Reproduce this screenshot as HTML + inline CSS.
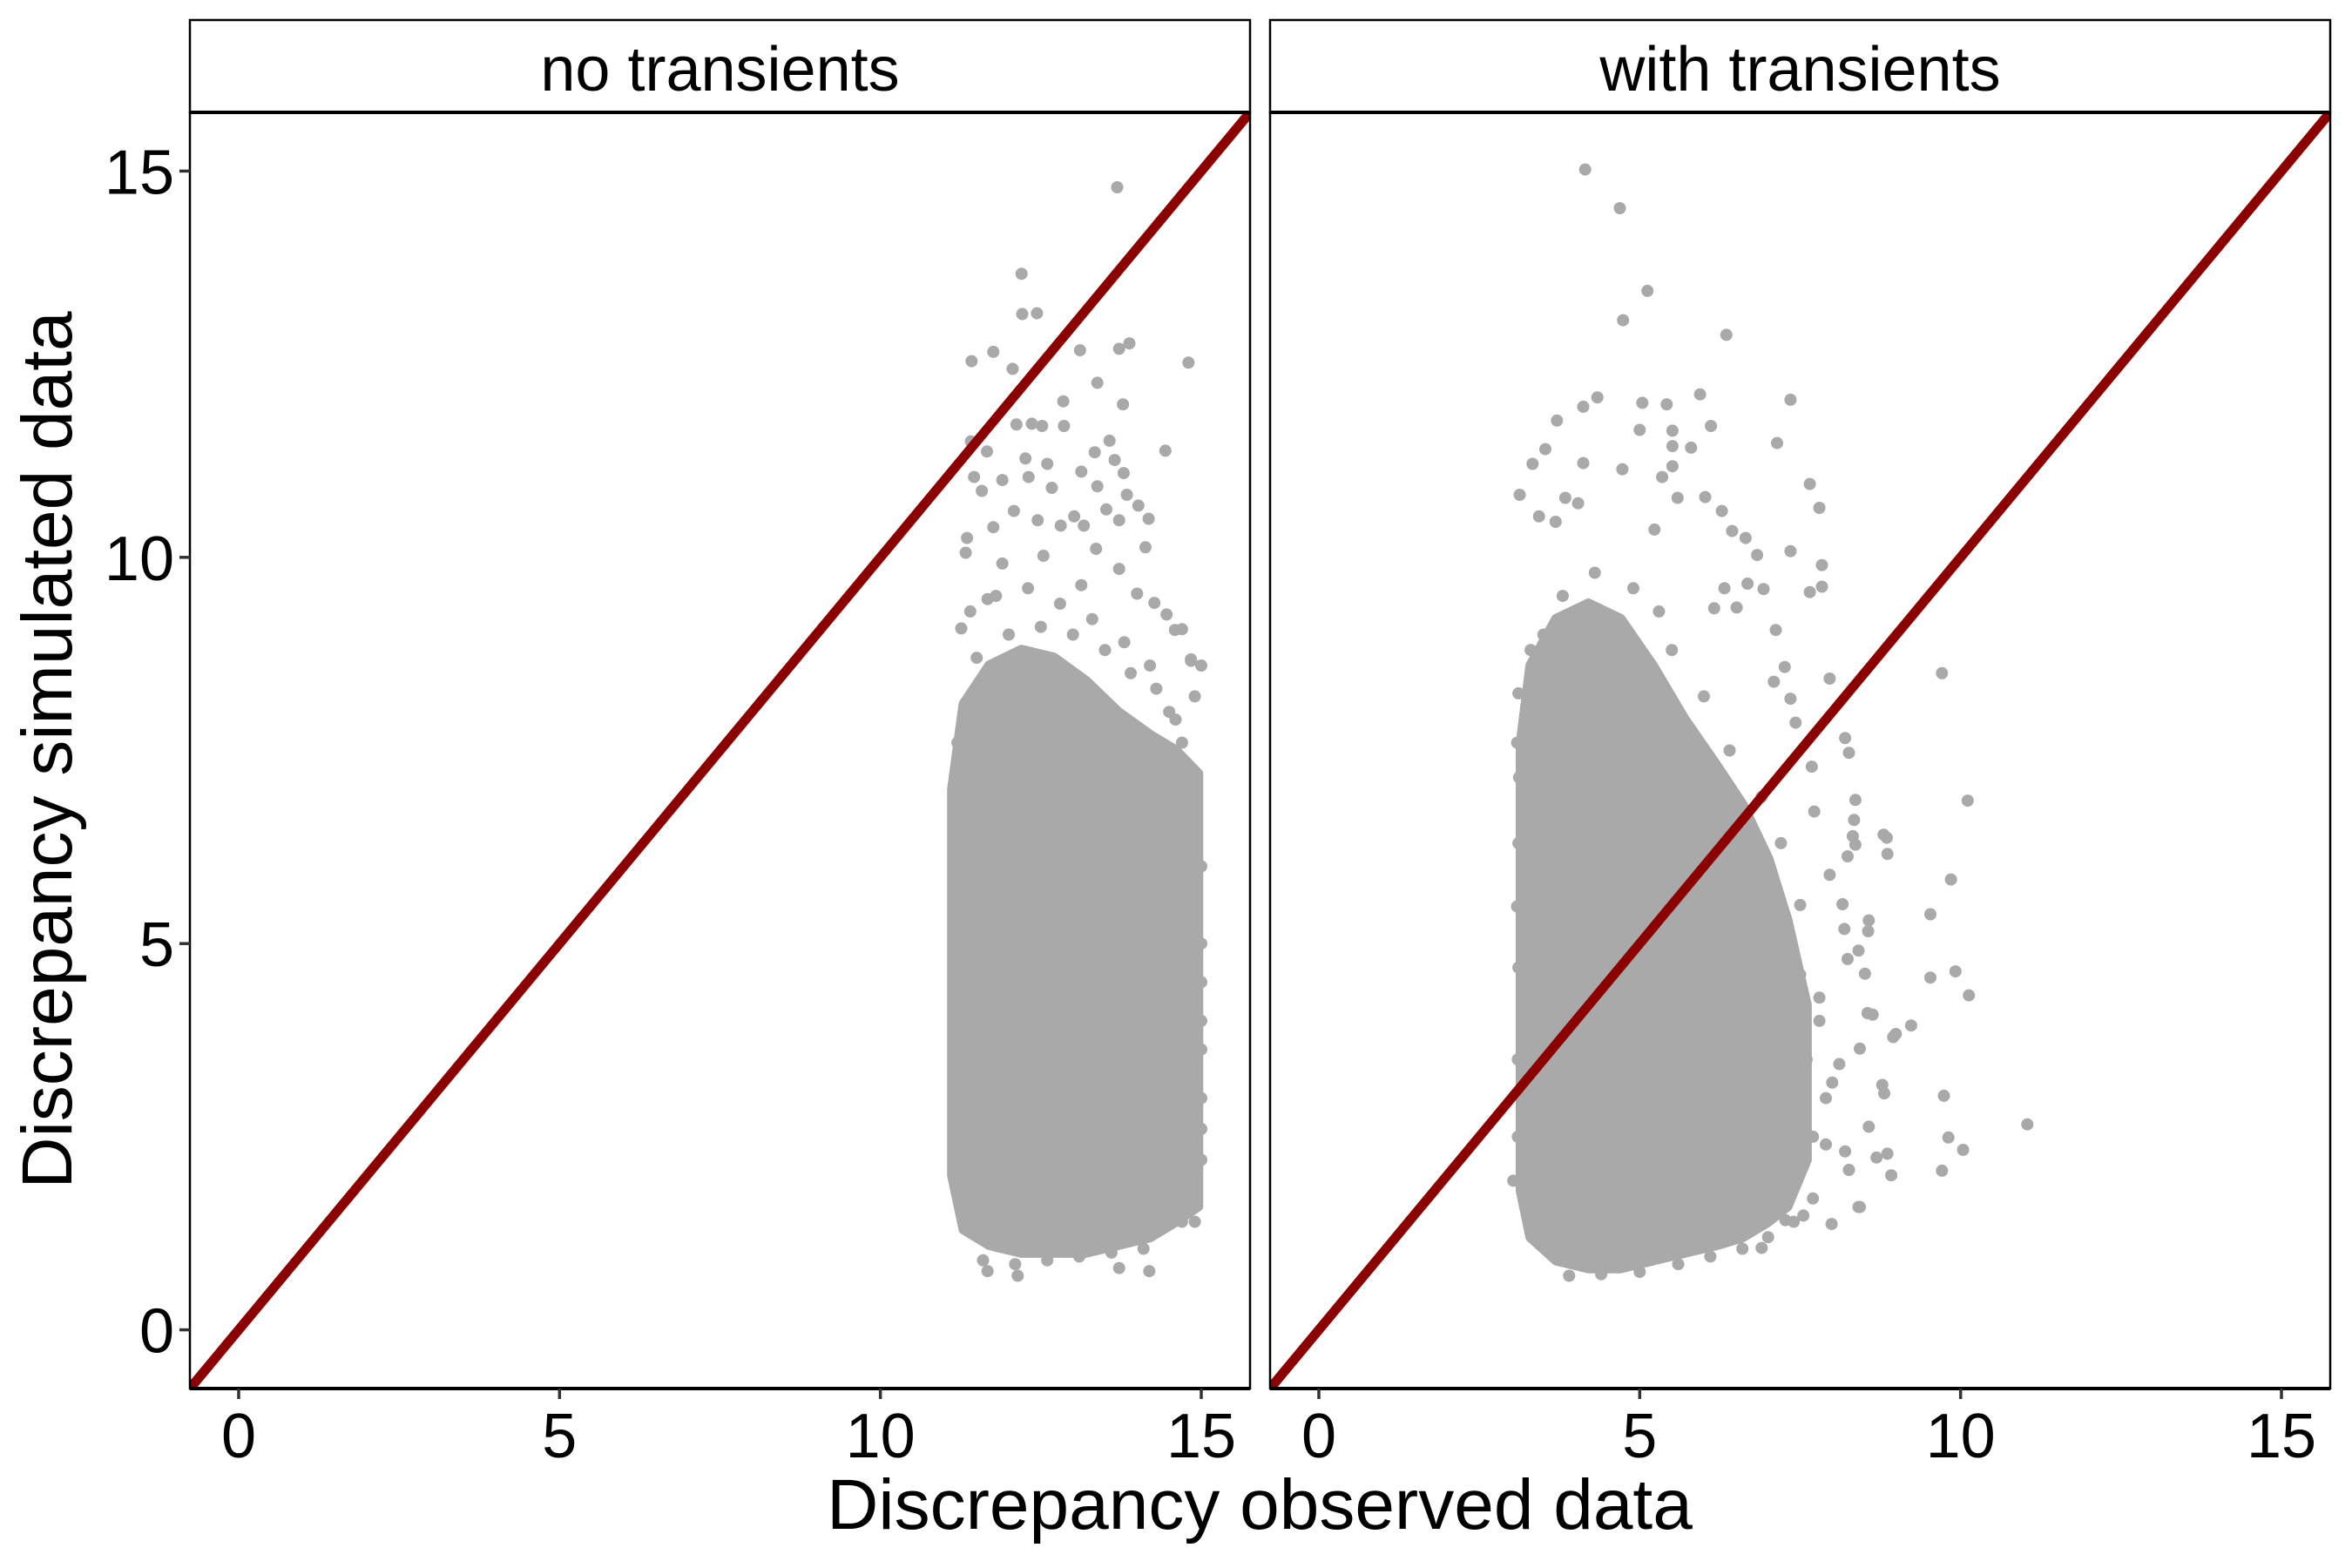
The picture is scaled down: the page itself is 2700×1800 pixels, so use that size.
<!DOCTYPE html>
<html><head><meta charset="utf-8"><style>
html,body{margin:0;padding:0;background:#fff;}
svg{display:block;font-family:"Liberation Sans",Arial,sans-serif;}
</style></head><body>
<svg id="chart" width="2700" height="1800" viewBox="0 0 2700 1800" xmlns="http://www.w3.org/2000/svg">
<rect width="2700" height="1800" fill="#fff"/>
<g id="root"></g>
<text x="1446" y="1755" font-size="82" text-anchor="middle" fill="#000">Discrepancy observed data</text>
<text transform="translate(82,861) rotate(-90)" font-size="82" text-anchor="middle" fill="#000">Discrepancy simulated data</text>
</svg>
<script>
// ---- data ----
const panelTitles = ["no transients", "with transients"];
const xTicks = [0, 5, 10, 15];
const yTicks = [0, 5, 10, 15];
const domainMin = -0.76, domainMax = 15.76;

// dense cloud core (ribbon) per panel
const coreX1 = [11.12, 11.3, 11.7, 12.2, 12.7, 13.2, 13.7, 14.2, 14.6, 14.95];
const coreLo1 = [2.0, 1.3, 1.1, 1.0, 1.0, 1.0, 1.1, 1.2, 1.4, 1.6];
const coreHi1 = [7.0, 8.1, 8.6, 8.8, 8.7, 8.4, 8.0, 7.7, 7.5, 7.2];
const coreX2 = [3.15, 3.3, 3.7, 4.2, 4.7, 5.2, 5.7, 6.2, 6.6, 7.0, 7.3, 7.6];
const coreLo2 = [1.8, 1.2, 0.9, 0.8, 0.8, 0.9, 1.0, 1.1, 1.2, 1.4, 1.6, 2.2];
const coreHi2 = [7.6, 8.6, 9.2, 9.4, 9.2, 8.6, 7.9, 7.3, 6.8, 6.1, 5.3, 4.2];

// individual points outside the core
const ptsX1 = [13.69,12.2,12.21,12.44,11.42,11.76,14.8,12.06,13.11,13.72,13.88,13.38,13.78,12.85,12.86,12.12,12.36,12.52,11.41,11.66,14.44,13.34,13.57,13.65,
12.26,12.6,12.67,12.31,11.9,11.46,11.58,13.13,13.38,13.79,13.84,14.02,14.18,13.72,13.52,13.17,13.02,12.81,12.45,12.08,11.76,11.35,11.33,11.9,12.54,13.36,13.72,14.13,14.0,14.27,13.13,11.67,11.26,14.59,14.84,15.0,
11.67,12.14,13.72,14.19,11.55,12.6,14.7,14.93,15.0,14.86,14.84,14.7,14.46,
14.5,14.7,14.9,14.3,13.9,13.5,13.0,12.5,12.0,11.5,11.2,11.15,15.0,15.0,15.0,15.0,15.0,14.9,
11.4,11.8,12.3,12.8,13.3,13.8,14.2,11.6,12.1,12.6,13.1,13.6,14.1,14.6,14.8,14.9,15.0,14.9,15.0];
const ptsY1 = [14.79,13.67,13.15,13.16,12.54,12.66,12.52,12.44,12.68,12.7,12.77,12.26,11.98,12.02,11.7,11.72,11.73,11.7,11.5,11.37,11.38,11.36,11.51,11.26,
11.28,11.21,10.9,11.04,11.0,11.04,10.86,11.11,10.92,11.09,10.81,10.67,10.5,10.48,10.62,10.41,10.53,10.41,10.48,10.6,10.39,10.25,10.06,9.92,10.02,10.11,9.85,10.13,9.53,9.41,9.64,9.46,9.08,9.06,8.66,8.6,
0.76,0.7,0.8,0.76,1.24,1.1,1.4,1.88,3.63,4.8,8.68,9.07,9.26,
8.0,7.6,8.2,8.3,8.5,8.8,9.0,9.1,9.0,8.7,7.6,6.5,6.0,5.0,4.0,3.0,2.2,1.4,
9.3,9.5,9.6,9.4,9.2,8.9,8.6,0.9,0.85,0.9,0.95,1.0,1.05,7.9,6.8,5.6,4.5,3.4,2.6];
const ptsX2 = [4.15,4.69,5.12,4.74,6.35,7.35,5.94,4.34,4.12,5.04,5.42,3.71,7.14,6.11,5.0,5.51,3.53,3.33,4.12,4.73,5.8,5.51,5.51,7.65,3.13,5.35,7.8,3.84,4.04,5.59,6.02,6.28,3.43,3.69,5.23,6.44,6.65,7.35,6.83,7.84,7.65,7.84,6.68,6.93,6.32,6.16,6.51,7.12,7.26,7.96,7.09,7.35,7.43,8.2,8.26,7.68,8.36,7.72,8.34,8.36,8.24,8.85,8.86,7.96,8.16,8.57,8.56,8.19,8.24,8.51,8.63,8.95,9.23,8.43,8.81,8.57,8.86,8.92,8.26,8.43,7.99,7.55,7.27,6.9,3.03,3.11,3.09,3.12,3.18,3.11,3.09,3.11,
9.71,10.11,9.85,9.53,9.92,10.13,9.53,11.04,9.74,9.81,10.04,9.71,8.78,8.99,8.55,8.41,8.8,8.32,8.69,8.41,8.11,8.2,
6.9,7.1,7.3,7.6,7.8,7.5,7.2,6.9,7.0,7.7,7.9,6.4,6.0,5.5,4.9,4.3,3.8,3.5,3.3,5.3,
3.9,4.4,5.0,5.6,6.1,6.6,7.0,7.4,7.7,7.9,8.0,7.8,7.5,3.1,3.1,3.15];
const ptsY2 = [15.02,14.52,13.45,13.07,12.88,12.04,12.11,12.07,11.95,12.0,11.98,11.77,11.48,11.7,11.65,11.64,11.4,11.21,11.22,11.14,11.42,11.44,11.18,10.95,10.81,11.04,10.64,10.77,10.7,10.77,10.78,10.6,10.53,10.46,10.36,10.34,10.25,10.08,10.03,9.9,9.55,9.62,9.66,9.59,9.6,9.34,9.35,9.06,8.58,8.43,8.39,8.17,7.86,7.66,7.47,7.29,6.86,6.71,6.6,6.28,6.13,6.37,6.16,5.89,5.51,5.3,5.16,5.19,4.8,4.61,4.08,3.79,3.94,3.64,3.06,2.63,2.28,2.0,2.07,1.59,1.37,1.48,1.42,1.06,1.93,8.24,7.6,7.15,6.74,6.3,5.48,4.69,
8.5,6.85,5.83,5.38,4.64,4.33,4.56,2.66,3.03,2.49,2.33,2.06,3.17,3.83,4.1,4.91,6.41,6.39,2.23,1.59,3.44,2.31,
4.5,3.3,2.8,3.5,4.3,5.5,6.3,6.9,2.1,2.5,3.0,7.5,8.2,8.8,9.6,9.8,9.5,9.0,8.8,9.3,
0.7,0.72,0.75,0.85,0.95,1.05,1.2,1.4,1.7,2.4,3.2,4.0,4.6,2.5,3.5,5.5];

// ---- layout ----
const panels = [
  {left:218, right:1435, name:"no-transients", coreX:coreX1, coreLo:coreLo1, coreHi:coreHi1, px:ptsX1, py:ptsY1},
  {left:1458, right:2675, name:"with-transients", coreX:coreX2, coreLo:coreLo2, coreHi:coreHi2, px:ptsX2, py:ptsY2}
];
const stripTop = 23, plotTop = 129, plotBottom = 1594;
const NS = "http://www.w3.org/2000/svg";
const root = document.getElementById("root");
function mk(tag, attrs, parent){ const e=document.createElementNS(NS,tag); for(const k in attrs) e.setAttribute(k,attrs[k]); (parent||root).appendChild(e); return e; }

panels.forEach((p, i) => {
  const xs = v => p.left + (v - domainMin) / (domainMax - domainMin) * (p.right - p.left);
  const ys = v => plotBottom - (v - domainMin) / (domainMax - domainMin) * (plotBottom - plotTop);
  const g = mk("g", {});
  
  
  const clipId = "clip" + i;
  const cp = mk("clipPath", {id: clipId}, g);
  mk("rect", {x:p.left, y:plotTop, width:p.right-p.left, height:plotBottom-plotTop}, cp);
  const data = mk("g", {"clip-path":"url(#"+clipId+")"}, g);

  let d = "";
  p.coreX.forEach((x, k) => { d += (k ? "L" : "M") + xs(x).toFixed(1) + "," + ys(p.coreHi[k]).toFixed(1); });
  for (let k = p.coreX.length - 1; k >= 0; k--) d += "L" + xs(p.coreX[k]).toFixed(1) + "," + ys(p.coreLo[k]).toFixed(1);
  d += "Z";
  const core = mk("path", {d:d, fill:"#a9a9a9", stroke:"#a9a9a9", "stroke-width":12, "stroke-linejoin":"round"}, data);
  
  

  p.px.forEach((x, k) => {
    const c = mk("circle", {cx:xs(x).toFixed(1), cy:ys(p.py[k]).toFixed(1), r:7, fill:"#a9a9a9"}, data);
    
    
  });

  const ln = mk("line", {x1:xs(domainMin), y1:ys(domainMin), x2:xs(domainMax), y2:ys(domainMax), stroke:"#8b0000", "stroke-width":11}, data);
  
  

  const border = mk("rect", {x:p.left, y:plotTop, width:p.right-p.left, height:plotBottom-plotTop, fill:"none", stroke:"#000", "stroke-width":2.5}, g);
  
  

  const strip = mk("rect", {x:p.left, y:stripTop, width:p.right-p.left, height:plotTop-stripTop, fill:"#fff", stroke:"#000", "stroke-width":2.5}, g);
  
  
  mk("line", {x1:p.left, y1:plotTop, x2:p.right, y2:plotTop, stroke:"#000", "stroke-width":4}, g);
  const st = mk("text", {x:(p.left+p.right)/2, y:104, "font-size":72, "text-anchor":"middle", fill:"#000"}, g);
  st.textContent = panelTitles[i];
  
  
  mk("line", {x1:p.left, y1:plotBottom, x2:p.right, y2:plotBottom, stroke:"#000", "stroke-width":4}, g);

  xTicks.forEach(t => {
    mk("line", {x1:xs(t), y1:plotBottom, x2:xs(t), y2:plotBottom+12, stroke:"#333", "stroke-width":3.5}, g);
    const tl = mk("text", {x:xs(t), y:1673, "font-size":72, "text-anchor":"middle", fill:"#000"}, g);
    tl.textContent = t;
    
    
  });
  if (i === 0) {
    yTicks.forEach(t => {
      mk("line", {x1:p.left-12, y1:ys(t), x2:p.left, y2:ys(t), stroke:"#333", "stroke-width":3.5}, g);
      const tl = mk("text", {x:p.left-18, y:ys(t)+26, "font-size":72, "text-anchor":"end", fill:"#000"}, g);
      tl.textContent = t;
      
      
    });
  }
});
</script>
</body></html>
